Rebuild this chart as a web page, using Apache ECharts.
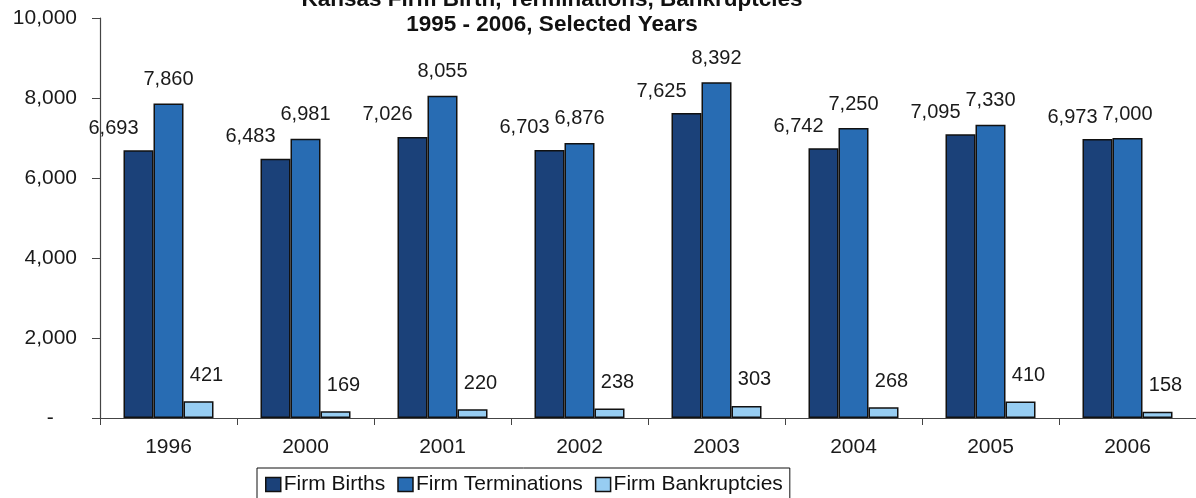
<!DOCTYPE html>
<html>
<head>
<meta charset="utf-8">
<script src="https://cdn.jsdelivr.net/npm/echarts@6/dist/echarts.min.js"></script>
<style>
html,body{margin:0;padding:0;background:#fff;}
#chart{width:1196px;height:498px;}
</style>
</head>
<body>
<div id="chart"></div>
<script>
const years = ['1996', '2000', '2001', '2002', '2003', '2004', '2005', '2006'];
const firmBirths = [6693, 6483, 7026, 6703, 7625, 6742, 7095, 6973];
const firmTerminations = [7860, 6981, 8055, 6876, 8392, 7250, 7330, 7000];
const firmBankruptcies = [421, 169, 220, 238, 303, 268, 410, 158];
const seriesNames = ['Firm Births', 'Firm Terminations', 'Firm Bankruptcies'];
const titleLines = ['Kansas Firm Birth, Terminations, Bankruptcies', '1995 - 2006, Selected Years'];

const fontFamily = 'Liberation Sans, Arial, sans-serif';
const fmt = v => v.toLocaleString('en-US');

const chart = echarts.init(document.getElementById('chart'), null, {renderer: 'canvas'});

function barSeries(name, data, color, labelOffset, dist) {
  return {
    name: name,
    type: 'bar',
    data: data,
    barWidth: 30,
    barGap: '0%',
    itemStyle: {color: color, borderColor: '#111', borderWidth: 1.5},
    label: {
      show: true,
      position: 'top',
      distance: dist,
      offset: labelOffset,
      color: '#1a1a1a',
      fontSize: 20,
      fontFamily: fontFamily,
      formatter: p => fmt(p.value)
    },
    emphasis: {disabled: true}
  };
}

chart.setOption({
  animation: false,
  backgroundColor: '#ffffff',
  title: {
    text: titleLines.join('\n'),
    left: 552,
    textAlign: 'center',
    top: -13,
    padding: 0,
    textStyle: {
      fontFamily: fontFamily,
      fontWeight: 'bold',
      fontSize: 22.5,
      lineHeight: 25,
      color: '#111'
    }
  },
  legend: {
    data: seriesNames,
    left: 257,
    top: 468,
    padding: [6, 7, 8, 8],
    itemGap: 12,
    itemWidth: 15,
    itemHeight: 14,
    icon: 'rect',
    borderColor: '#111',
    borderWidth: 1,
    textStyle: {fontFamily: fontFamily, fontSize: 21, color: '#111', padding: [0, 0, 0, -2]},
    itemStyle: {borderColor: '#111', borderWidth: 1.5}
  },
  grid: {left: 100, top: 18, width: 1100, height: 400, containLabel: false},
  xAxis: {
    type: 'category',
    data: years,
    axisLine: {lineStyle: {color: '#444', width: 1.2}},
    axisTick: {show: true, alignWithLabel: false, length: 7, lineStyle: {color: '#444'}},
    axisLabel: {fontFamily: fontFamily, fontSize: 21, color: '#1a1a1a', margin: 19}
  },
  yAxis: {
    type: 'value',
    min: 0,
    max: 10000,
    interval: 2000,
    splitLine: {show: false},
    axisLine: {show: true, lineStyle: {color: '#444', width: 1.2}},
    axisTick: {show: true, length: 8, lineStyle: {color: '#444'}},
    axisLabel: {
      fontFamily: fontFamily,
      fontSize: 21,
      color: '#1a1a1a',
      margin: 23,
      formatter: v => v === 0 ? '-    ' : fmt(v)
    }
  },
  series: [
    barSeries(seriesNames[0], firmBirths, '#1b4179', [-25, 0], 12),
    barSeries(seriesNames[1], firmTerminations, '#286cb3', [0, 0], 14),
    barSeries(seriesNames[2], firmBankruptcies, '#97cdf2', [8, 0], 16)
  ]
});
</script>
</body>
</html>
